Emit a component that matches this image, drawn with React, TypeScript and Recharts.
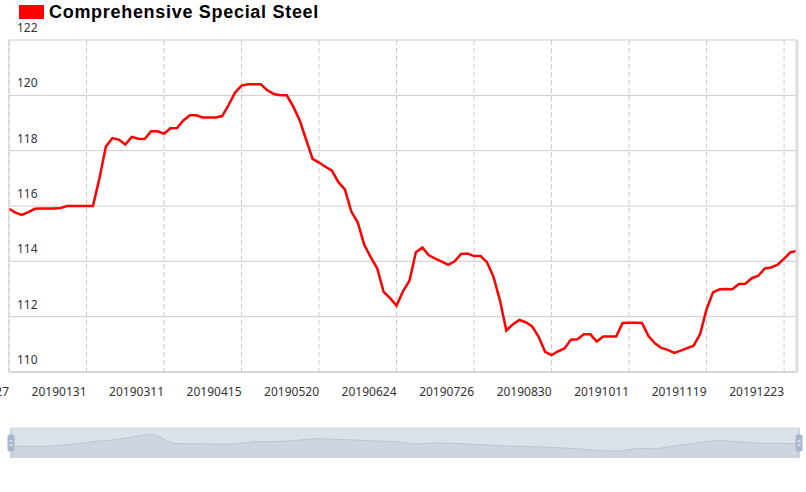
import React from 'react';
import { LineChart, Line, XAxis, YAxis, CartesianGrid, Legend, AreaChart, Area, ReferenceLine } from 'recharts';

const seriesName = 'Comprehensive Special Steel';

const dates = [
  '20181227','20190102','20190104','20190108','20190110','20190114','20190116','20190118','20190122','20190124','20190128','20190130',
  '20190131','20190201','20190212','20190214','20190218','20190220','20190222','20190226','20190228','20190304','20190306','20190308',
  '20190311','20190313','20190315','20190319','20190321','20190325','20190327','20190329','20190402','20190404','20190409','20190411',
  '20190415','20190417','20190419','20190423','20190425','20190429','20190506','20190508','20190510','20190514','20190515','20190517',
  '20190520','20190522','20190524','20190528','20190530','20190603','20190605','20190610','20190612','20190614','20190618','20190620',
  '20190624','20190626','20190628','20190702','20190704','20190708','20190710','20190712','20190716','20190718','20190722','20190724',
  '20190726','20190730','20190801','20190805','20190807','20190809','20190813','20190815','20190819','20190821','20190823','20190827',
  '20190830','20190903','20190905','20190909','20190911','20190916','20190918','20190920','20190924','20190926','20190930','20191009',
  '20191011','20191015','20191018','20191022','20191024','20191028','20191030','20191101','20191105','20191107','20191111','20191114',
  '20191119','20191121','20191125','20191127','20191129','20191203','20191205','20191209','20191211','20191213','20191217','20191219',
  '20191223','20191227','20191231',
];

const values = [
  115.9, 115.76, 115.68, 115.78, 115.9, 115.91, 115.91, 115.91, 115.93, 116.0, 116.0, 116.0,
  116.0, 116.0, 117.0, 118.15, 118.45, 118.4, 118.22, 118.5, 118.43, 118.42, 118.7, 118.7,
  118.61, 118.81, 118.82, 119.09, 119.28, 119.28, 119.2, 119.2, 119.2, 119.25, 119.65, 120.1,
  120.35, 120.4, 120.4, 120.4, 120.18, 120.05, 120.0, 120.0, 119.6, 119.1, 118.4, 117.7,
  117.57, 117.42, 117.28, 116.86, 116.6, 115.8, 115.4, 114.6, 114.15, 113.75, 112.9, 112.67,
  112.4, 112.92, 113.3, 114.33, 114.5, 114.22, 114.1, 113.99, 113.87, 114.0, 114.27, 114.28,
  114.19, 114.19, 113.97, 113.45, 112.6, 111.5, 111.72, 111.88, 111.8, 111.65, 111.27, 110.73,
  110.61, 110.75, 110.85, 111.17, 111.18, 111.36, 111.36, 111.1, 111.28, 111.28, 111.28, 111.77,
  111.78, 111.78, 111.77, 111.3, 111.04, 110.87, 110.8, 110.69, 110.77, 110.86, 110.95, 111.37,
  112.27, 112.88, 112.99, 113.0, 112.99, 113.18, 113.19, 113.39, 113.48, 113.74, 113.78, 113.88,
  114.1, 114.33, 114.37,
];

const tickLabels = [
  '20181227','20190131','20190311','20190415','20190520','20190624',
  '20190726','20190830','20191011','20191119','20191223',
];

const yTicks = [110, 112, 114, 116, 118, 120, 122];

// overview (data zoom slider) shadow, read from the slider strip
const overviewValues = [
  110.0, 109.5, 110.0, 111.25, 113.5, 115.0, 117.5, 120.0, 112.1, 111.9,
  111.7, 111.4, 113.6, 113.6, 114.4, 116.1, 115.6, 115.0, 114.2, 113.6,
  111.7, 112.5, 112.2, 111.3, 110.25, 109.75, 109.4, 108.6, 107.7, 106.3,
  105.6, 107.9, 107.75, 110.5, 112.8, 114.8, 113.4, 112.25, 112.2, 111.7,
];

const data = dates.map((d, i) => ({ date: d, value: values[i] }));
const overviewData = overviewValues.map((v, i) => ({ idx: i, value: v }));

const FONT = "'Noto Sans', 'DejaVu Sans', sans-serif";

const XTick = (props: any) => {
  const { x, y, payload } = props;
  return (
    <text x={x} y={y + 24} textAnchor="end" fontSize={12} fill="#333" fontFamily={FONT}>
      {payload.value}
    </text>
  );
};

const YTick = (props: any) => {
  const { x, y, payload } = props;
  return (
    <text x={x + 8} y={y - 8} textAnchor="start" fontSize={12} fill="#333" fontFamily={FONT}>
      {payload.value}
    </text>
  );
};

const LegendContent = () => (
  <div style={{ display: 'flex', alignItems: 'center', height: 24, paddingLeft: 19 }}>
    <div style={{ width: 25, height: 14, background: '#ff0000', marginRight: 5 }} />
    <span style={{ fontFamily: "Arial, 'Liberation Sans', sans-serif", fontWeight: 'bold', fontSize: 18, letterSpacing: 0.7, color: '#000' }}>
      {seriesName}
    </span>
  </div>
);

const Handle = (props: any) => {
  const vb = props.viewBox || {};
  const x = vb.x;
  const y = vb.y;
  const h = vb.height;
  return (
    <g>
      <rect x={x - 3.5} y={y + h / 2 - 8.5} width={7} height={17} rx={2} fill="#a7b7cc" />
      <line x1={x - 1.5} x2={x + 1.5} y1={y + h / 2 - 2} y2={y + h / 2 - 2} stroke="#fff" />
      <line x1={x - 1.5} x2={x + 1.5} y1={y + h / 2 + 2} y2={y + h / 2 + 2} stroke="#fff" />
    </g>
  );
};

export default function App() {
  return (
    <div style={{ position: 'absolute', left: 0, top: 0, width: 806, height: 492, background: '#fff' }}>
      <LineChart width={806} height={420} data={data} margin={{ top: 16, right: 8, left: 8, bottom: 18 }}>
        <Legend verticalAlign="top" align="left" content={<LegendContent />} wrapperStyle={{ top: 0, left: 0 }} />
        <CartesianGrid yAxisId="left" stroke="#ccc" horizontal={true} vertical={false} />
        <CartesianGrid yAxisId="left" stroke="#ccc" strokeDasharray="5 3" horizontal={false} vertical={true} />
        <XAxis
          dataKey="date"
          ticks={tickLabels}
          interval={0}
          tickLine={false}
          tickSize={0}
          tickMargin={0}
          axisLine={{ stroke: '#ccc' }}
          height={30}
          tick={<XTick />}
        />
        <YAxis
          yAxisId="left"
          domain={[110, 122]}
          ticks={yTicks}
          interval={0}
          width={1}
          tickLine={false}
          tickSize={0}
          tickMargin={0}
          axisLine={{ stroke: '#ccc' }}
          tick={<YTick />}
        />
        <YAxis
          yAxisId="right"
          orientation="right"
          domain={[110, 122]}
          width={1}
          tick={false}
          tickLine={false}
          axisLine={{ stroke: '#ddd', strokeWidth: 3 }}
        />
        <Line
          yAxisId="left"
          type="linear"
          dataKey="value"
          stroke="#ff0000"
          strokeWidth={2.5}
          dot={false}
          isAnimationActive={false}
        />
      </LineChart>
      <div style={{ position: 'absolute', left: 0, top: 423 }}>
        <AreaChart width={806} height={40} data={overviewData} margin={{ top: 5, right: 7, left: 11, bottom: 5 }}>
          <CartesianGrid fill="#dce2ea" stroke="none" horizontal={false} vertical={false} />
          <XAxis dataKey="idx" hide />
          <YAxis hide domain={[100, 125]} />
          <ReferenceLine y={125} stroke="#cfd6e0" />
          <Area
            type="linear"
            dataKey="value"
            stroke="#bcc4d0"
            fill="#cfd5de"
            fillOpacity={1}
            dot={false}
            isAnimationActive={false}
          />
          <ReferenceLine x={0} stroke="#a7b7cc" label={<Handle />} />
          <ReferenceLine x={overviewValues.length - 1} stroke="#a7b7cc" label={<Handle />} />
        </AreaChart>
      </div>
    </div>
  );
}
